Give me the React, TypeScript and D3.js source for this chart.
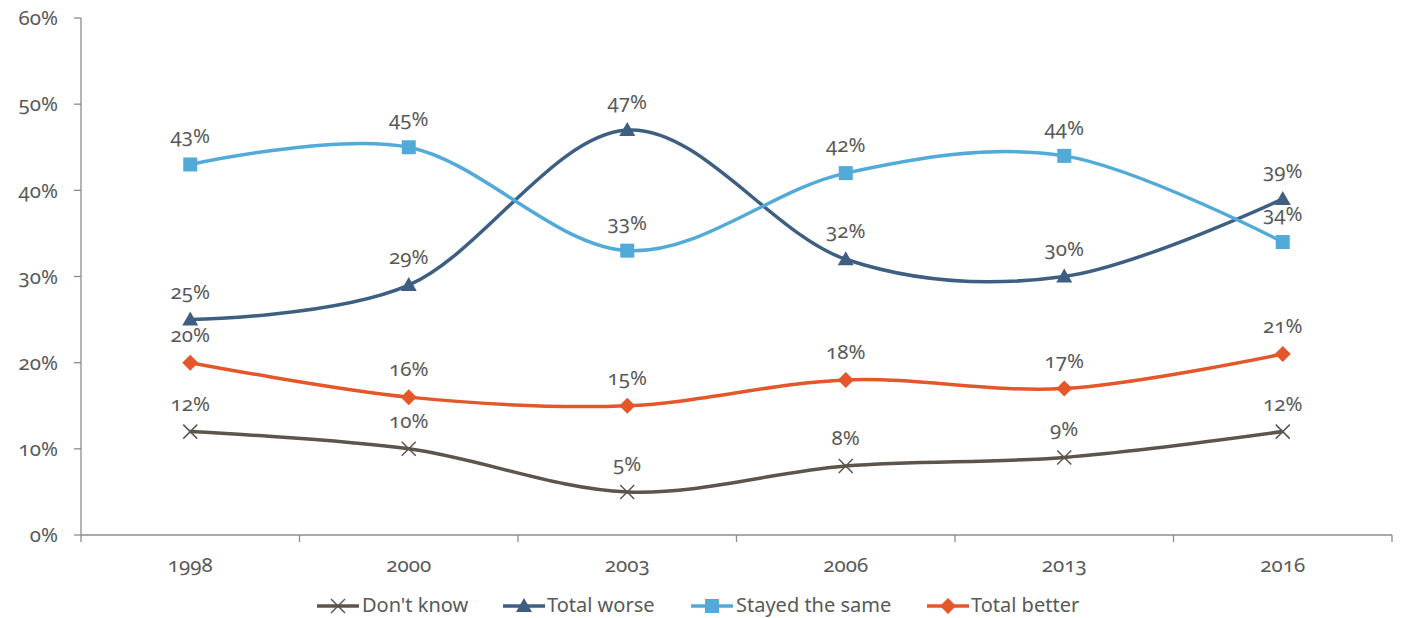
import React from "react";
import * as d3 from "d3";

const categories = ["1998", "2000", "2003", "2006", "2013", "2016"];
const dontKnow = [12, 10, 5, 8, 9, 12];
const totalWorse = [25, 29, 47, 32, 30, 39];
const stayedSame = [43, 45, 33, 42, 44, 34];
const totalBetter = [20, 16, 15, 18, 17, 21];
const yTicks = [0, 10, 20, 30, 40, 50, 60];

const series = [
  { name: "Don't know", values: dontKnow, color: "#5d544b", marker: "x" },
  { name: "Total worse", values: totalWorse, color: "#3e5f82", marker: "tri" },
  { name: "Stayed the same", values: stayedSame, color: "#52aad9", marker: "sq" },
  { name: "Total better", values: totalBetter, color: "#e3572a", marker: "dia" },
];

const W = 1401, H = 618;
const left = 81, right = 1392, top = 18, bottom = 535;
const FONT = "'Noto Sans', 'Open Sans', sans-serif";
const TEXT = "#595959";
const AXIS = "#8c8c8c";
const NUM_SIZE = 20.5;
const LEG_SIZE = 20;

function Marker({ kind, x, y, color }: { kind: string; x: number; y: number; color: string }) {
  if (kind === "x") {
    const s = 7;
    return (
      <g stroke={color} strokeWidth={1.5}>
        <line x1={x - s} y1={y - s} x2={x + s} y2={y + s} />
        <line x1={x - s} y1={y + s} x2={x + s} y2={y - s} />
      </g>
    );
  }
  if (kind === "tri") {
    return <path d={`M${x},${y - 8}L${x + 8},${y + 6}L${x - 8},${y + 6}Z`} fill={color} />;
  }
  if (kind === "sq") {
    return <rect x={x - 7} y={y - 7} width={14} height={14} fill={color} />;
  }
  return <path d={`M${x},${y - 8}L${x + 8},${y}L${x},${y + 8}L${x - 8},${y}Z`} fill={color} />;
}

export default function App() {
  const x = d3.scaleBand<string>().domain(categories).range([left, right]);
  const y = d3.scaleLinear().domain([0, 60]).range([bottom, top]);
  const cx = (c: string) => (x(c) as number) + x.bandwidth() / 2;
  const line = d3
    .line<number>()
    .x((_, i) => cx(categories[i]))
    .y((v) => y(v))
    .curve(d3.curveCardinal.tension(0));

  const legendItems = [
    { lx: 317, tx: 362 },
    { lx: 503, tx: 547 },
    { lx: 691, tx: 736 },
    { lx: 927, tx: 971 },
  ];
  const legendY = 606;
  const num = { fontVariantNumeric: "oldstyle-nums" as const };

  return (
    <svg
      width={W}
      height={H}
      style={{ position: "absolute", left: 0, top: 0, display: "block" }}
      fontFamily={FONT}
    >
      <rect width={W} height={H} fill="#fff" />
      <line x1={left} y1={top} x2={left} y2={bottom} stroke={AXIS} strokeWidth={1.3} />
      <line x1={left} y1={bottom} x2={right} y2={bottom} stroke={AXIS} strokeWidth={1.3} />
      {yTicks.map((t) => (
        <g key={t}>
          <line x1={left - 7} x2={left} y1={y(t)} y2={y(t)} stroke={AXIS} strokeWidth={1.3} />
          <text x={58} y={y(t)} dy="0.35em" textAnchor="end" fontSize={NUM_SIZE} fill={TEXT} style={num}>
            {t}%
          </text>
        </g>
      ))}
      {[...categories.map((c) => x(c) as number), right].map((p, i) => (
        <line key={i} x1={p} x2={p} y1={bottom} y2={bottom + 7} stroke={AXIS} strokeWidth={1.3} />
      ))}
      {categories.map((c) => (
        <text key={c} x={cx(c)} y={572} textAnchor="middle" fontSize={NUM_SIZE} fill={TEXT} style={num}>
          {c}
        </text>
      ))}
      {series.map((s) => (
        <path key={s.name} d={line(s.values) || ""} fill="none" stroke={s.color} strokeWidth={3.5} />
      ))}
      {series.map((s) =>
        s.values.map((v, i) => (
          <Marker key={s.name + i} kind={s.marker} x={cx(categories[i])} y={y(v)} color={s.color} />
        ))
      )}
      {series.map((s) =>
        s.values.map((v, i) => (
          <text
            key={"l" + s.name + i}
            x={cx(categories[i])}
            y={y(v) - 21}
            textAnchor="middle"
            fontSize={NUM_SIZE}
            fill={TEXT}
            style={num}
          >
            {v}%
          </text>
        ))
      )}
      {series.map((s, i) => (
        <g key={"lg" + i}>
          <line
            x1={legendItems[i].lx}
            x2={legendItems[i].lx + 42}
            y1={legendY}
            y2={legendY}
            stroke={s.color}
            strokeWidth={3.5}
          />
          <Marker kind={s.marker} x={legendItems[i].lx + 21} y={legendY} color={s.color} />
          <text x={legendItems[i].tx} y={legendY - 1} dy="0.35em" fontSize={LEG_SIZE} fill={TEXT}>
            {s.name}
          </text>
        </g>
      ))}
    </svg>
  );
}
